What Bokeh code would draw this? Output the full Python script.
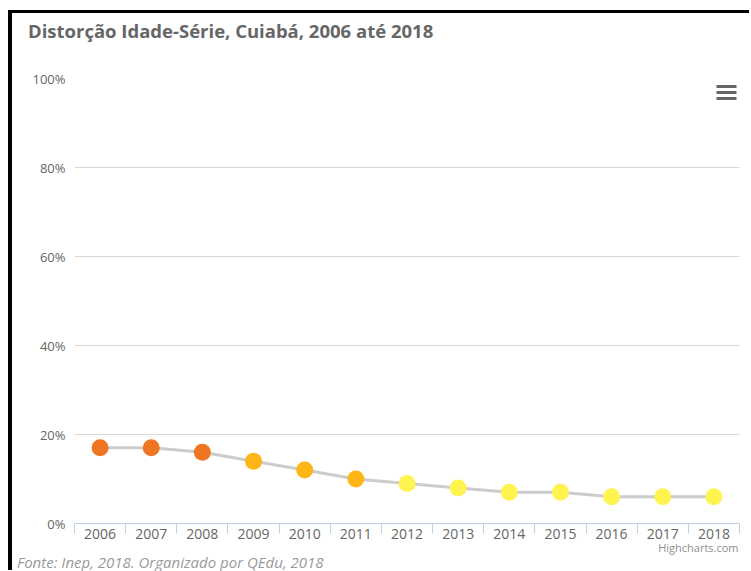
from bokeh.plotting import figure
from bokeh.models import (BoxAnnotation, FixedTicker, PrintfTickFormatter,
                          ColumnDataSource, Range1d, Div, Title)
from bokeh.layouts import column
from bokeh.embed import file_html
from bokeh.resources import INLINE

# ---- data ----
years = [2006, 2007, 2008, 2009, 2010, 2011, 2012, 2013, 2014, 2015, 2016, 2017, 2018]
values = [17, 17, 16, 14, 12, 10, 9, 8, 7, 7, 6, 6, 6]
y_ticks = [0, 20, 40, 60, 80, 100]
title_text = "Distorção Idade-Série, Cuiabá, 2006 até 2018"
source_text = "Fonte: Inep, 2018. Organizado por QEdu, 2018"
credit_text = "Highcharts.com"


def level_color(v):
    if v >= 15:
        return "#EE7623"
    if v >= 10:
        return "#FFB515"
    return "#FFF350"


colors = [level_color(v) for v in values]
src = ColumnDataSource(dict(x=years, y=values, c=colors))

FONT = "Open Sans"
W = 737
OX, OY = 12, 13          # content origin on page (after margin + border)
TITLE_H = 52             # title block height
CY = OY + TITLE_H        # canvas top on page
FL, FT, FR, FB = 74, 78, 739, 523  # frame edges on page
CB = 555                 # canvas bottom on page
H = CB - CY

title_div = Div(
    text=('<div style="font-family:\'Open Sans\';font-size:18.5px;font-weight:bold;'
          'color:#666666;padding-left:16px;padding-top:6px;line-height:24px;'
          'white-space:nowrap;">' + title_text + '</div>'),
    width=W, height=TITLE_H, margin=0)

p = figure(width=W, height=H, output_backend="svg", toolbar_location=None,
           x_range=Range1d(years[0] - 0.5, years[-1] + 0.5),
           y_range=Range1d(0, 100),
           min_border_left=FL - OX, min_border_right=OX + W - FR,
           min_border_top=FT - CY, min_border_bottom=CB - FB)
p.outline_line_color = None
p.background_fill_color = "white"
p.border_fill_color = "white"

# grid
p.xgrid.grid_line_color = None
p.ygrid.grid_line_color = "#D8D8D8"
p.ygrid.grid_line_width = 1
p.ygrid.ticker = FixedTicker(ticks=y_ticks)

# y axis
yax = p.yaxis[0]
yax.ticker = FixedTicker(ticks=y_ticks)
yax.formatter = PrintfTickFormatter(format="%d%%")
yax.axis_line_color = None
yax.major_tick_line_color = None
yax.major_tick_out = 0
yax.major_tick_in = 0
yax.minor_tick_line_color = None
yax.minor_tick_out = 0
yax.major_label_standoff = 9
yax.major_label_text_font = FONT
yax.major_label_text_font_size = "13px"
yax.major_label_text_color = "#666666"

# x axis
xax = p.xaxis[0]
boundaries = [y - 0.5 for y in years] + [years[-1] + 0.5]
xax.ticker = FixedTicker(ticks=years, minor_ticks=boundaries)
xax.axis_line_color = "#C0D0E0"
xax.axis_line_width = 1
xax.major_tick_line_color = None
xax.major_tick_out = 0
xax.major_tick_in = 0
xax.minor_tick_line_color = "#C0D0E0"
xax.minor_tick_out = 10
xax.minor_tick_in = 0
xax.major_label_standoff = -5
xax.major_label_text_font = FONT
xax.major_label_text_font_size = "14px"
xax.major_label_text_color = "#666666"

# credit below the axis, right aligned
p.add_layout(Title(text=credit_text, align="right", text_font=FONT,
                   text_font_size="11px", text_font_style="normal",
                   text_color="#909090", standoff=-8, offset=1), "below")

# series
p.line("x", "y", source=src, line_color="#CCCCCC", line_width=3)
p.scatter("x", "y", source=src, size=17, fill_color="c", line_color=None)

# page pixels -> data units (for the in-frame menu icon)
px_x = (years[-1] + 0.5 - (years[0] - 0.5)) / float(FR - FL)
px_y = 100.0 / float(FB - FT)


def dx(px):
    return years[0] - 0.5 + (px - FL) * px_x


def dy(py):
    return 100 - (py - FT) * px_y


for yy in (86, 92, 98):
    p.add_layout(BoxAnnotation(left=dx(716), right=dx(736), top=dy(yy - 1.5),
                               bottom=dy(yy + 1.5), fill_color="#666666",
                               fill_alpha=1, line_color=None, line_alpha=0,
                               level="overlay"))

foot_div = Div(
    text=('<div style="font-family:\'Open Sans\';font-size:15px;font-style:italic;'
          'color:#9A9A9A;padding-left:5px;line-height:14px;white-space:nowrap;">'
          + source_text + '</div>'),
    width=W, height=15, margin=0)

layout = column(title_div, p, foot_div, spacing=0,
                styles={"border-left": "4px solid black",
                        "border-top": "3px solid black",
                        "margin-left": "8px", "margin-top": "10px",
                        "background": "white"})

open("out.html", "w").write(file_html(layout, INLINE))
